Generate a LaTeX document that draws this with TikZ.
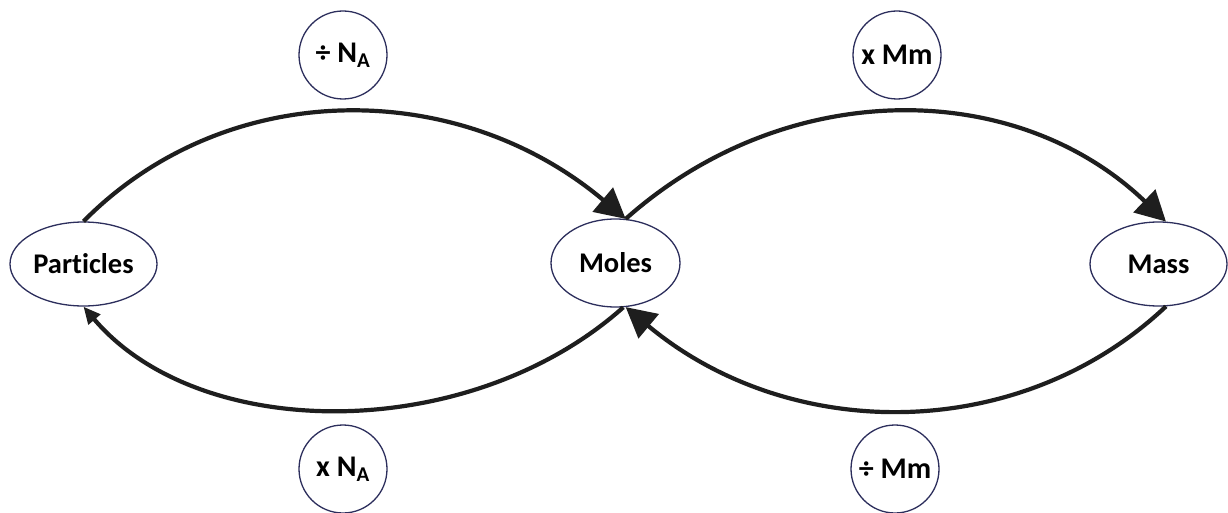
\documentclass[tikz,border=0pt]{standalone}
\usepackage{fontspec}
\setmainfont[Ligatures=NoCommon]{Carlito}
\usetikzlibrary{arrows.meta,shapes.geometric}
\definecolor{navy}{RGB}{44,46,92}
\definecolor{arc}{RGB}{30,30,30}
\begin{document}
\begin{tikzpicture}[x=1pt,y=-1pt,
  ell/.style={ellipse, draw=navy, line width=1.3pt, inner sep=0pt, font=\fontsize{28.5}{33}\selectfont\bfseries},
  op/.style={circle, draw=navy, line width=1.3pt, inner sep=0pt, minimum size=88pt, font=\fontsize{30}{34}\selectfont\bfseries},
  conn/.style={draw=arc, line width=4.2pt},
  bigtip/.style={-{Triangle[length=30pt,width=31pt]}},
  smalltip/.style={-{Triangle[length=17pt,width=15pt]}}]
\useasboundingbox (0,0) rectangle (1228,513);
\fill[white] (0,0) rectangle (1228,513);
\node[ell, minimum width=147pt, minimum height=84pt] (particles) at (83.5,264) {Particles};
\node[ell, minimum width=129pt, minimum height=88pt] (moles) at (615.5,263) {Moles};
\node[ell, minimum width=137pt, minimum height=84pt] (mass) at (1158.5,264) {Mass};
\node[op] (divna) at (343,55) {÷ N\textsubscript{A}};
\node[op] (xmm) at (897,55) {x Mm};
\node[op] (xna) at (343,469) {x N\textsubscript{A}};
\node[op] (divmm) at (895,469) {÷ Mm};
\draw[conn, bigtip] (particles.north) .. controls (226,77) and (457,77) .. (moles.77);
\draw[conn, bigtip] (moles.77) .. controls (785,77) and (1015,77) .. (mass.80);
\draw[conn, bigtip] (mass.-80) .. controls (1020,444) and (790,444) .. (moles.-77);
\draw[conn, smalltip] (moles.-80) .. controls (470,444) and (200,444) .. (particles.south);
\end{tikzpicture}
\end{document}
